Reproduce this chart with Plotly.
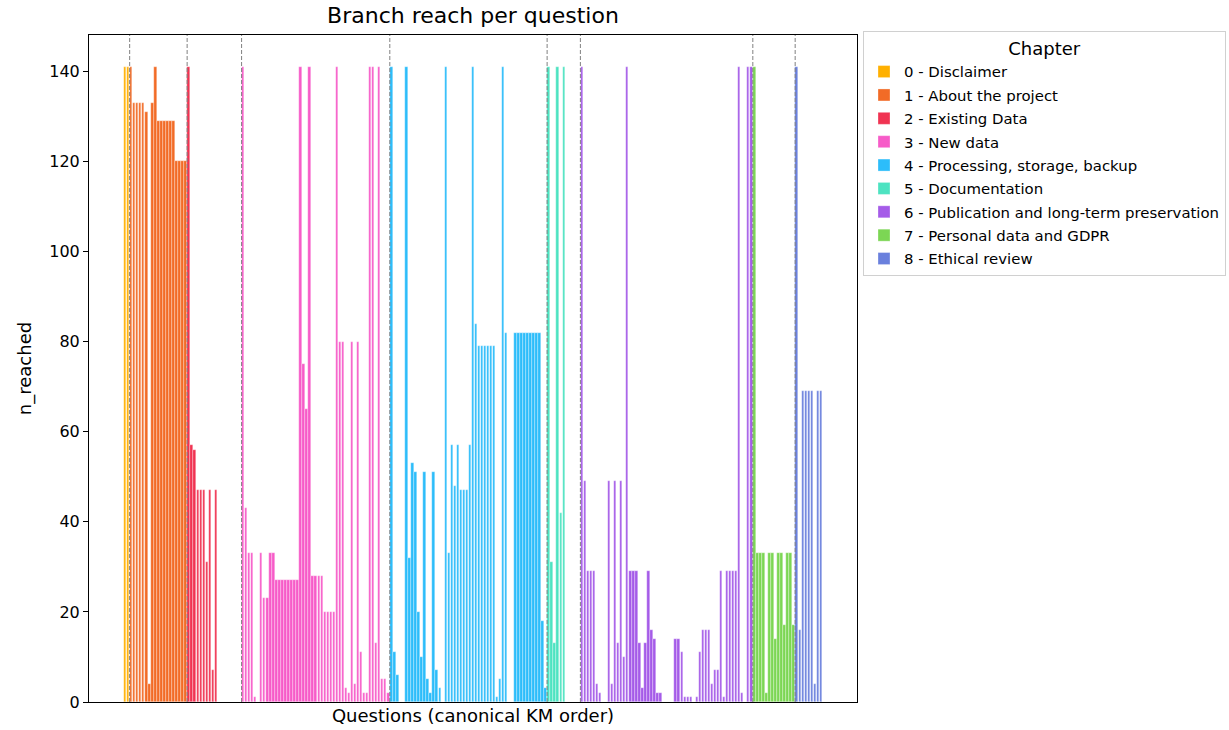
import plotly.graph_objects as go

# Chapters and colours
chapters = [
    "0 - Disclaimer",
    "1 - About the project",
    "2 - Existing Data",
    "3 - New data",
    "4 - Processing, storage, backup",
    "5 - Documentation",
    "6 - Publication and long-term preservation",
    "7 - Personal data and GDPR",
    "8 - Ethical review",
]
colors = ["#ffb000", "#f26b26", "#f03352", "#f75bc8", "#2cbdfa",
          "#4de3c1", "#a55be8", "#7cd654", "#6a80dd"]

# n_reached per question, in canonical KM order, one list per chapter
ch0 = [141, 141]
ch1 = [141, 133, 133, 133, 133, 131, 4, 133, 141,
       129, 129, 129, 129, 129, 129, 120, 120, 120, 120]
ch2 = [141, 57, 56, 47, 47, 47, 31, 47, 7, 47,
       0, 0, 0, 0, 0, 0, 0, 0]
ch3 = [141, 43, 33, 33, 1, 0, 33, 23, 23, 33, 33,
       27, 27, 27, 27, 27, 27, 27, 27,
       141, 75, 65, 141, 28, 28, 28, 28, 20, 20, 20, 20,
       141, 80, 80, 3, 2, 80, 4, 80, 11, 2, 2,
       141, 141, 13, 141, 5, 5, 2]
ch4 = [141, 11, 6, 0, 0, 141, 32, 53, 51, 20, 10, 51, 5, 2, 51, 7, 3, 0,
       141, 33, 57, 48, 57, 47, 47, 47, 57,
       141, 84, 79, 79, 79, 79, 79, 79, 1, 5,
       141, 82, 0, 0, 82, 82, 82, 82, 82, 82, 82, 82, 82, 18, 3]
ch5 = [141, 31, 13, 141, 42, 141, 0, 0, 0, 0, 0]
ch6 = [141, 49, 29, 29, 29, 4, 2, 0, 0, 49, 4, 49, 13, 49, 10,
       141, 29, 29, 29, 13, 3, 13, 29, 16, 14, 2, 2, 0, 0, 0, 0,
       14, 14, 11, 1, 1, 1, 0, 1, 11, 16, 16, 16, 4, 7, 7,
       29, 1, 29, 29, 29, 29, 141, 2, 0, 141, 141]
ch7 = [141, 33, 33, 33, 2, 33, 33, 14, 33, 33, 17, 33, 33, 17]
ch8 = [141, 16, 69, 69, 69, 69, 4, 69, 69]

reach = [ch0, ch1, ch2, ch3, ch4, ch5, ch6, ch7, ch8]

fig = go.Figure()
pos = 0
starts = []
for name, col, vals in zip(chapters, colors, reach):
    starts.append(pos)
    xs = list(range(pos, pos + len(vals)))
    fig.add_trace(go.Bar(x=xs, y=vals, name=name, width=0.8, legendgroup=name,
                         marker=dict(color=col, line=dict(color="rgba(255,255,255,0.6)", width=0.5))))
    pos += len(vals)
n = pos

# chapter separators
for s in starts[1:]:
    fig.add_shape(type="line", x0=s - 0.5, x1=s - 0.5, y0=0, y1=1,
                  xref="x", yref="paper", line=dict(color="#808080", width=1, dash="4px,2px"))

pad = 0.05 * (n - 0.2)
fig.update_layout(
    width=1229, height=730,
    margin=dict(l=89, r=372, t=35, b=28),
    paper_bgcolor="white", plot_bgcolor="white",
    font=dict(family="DejaVu Sans", size=16, color="black"),
    title=dict(text="Branch reach per question", x=0.5, xref="paper", xanchor="center",
               y=1 - 15 / 730, yref="container", yanchor="middle",
               font=dict(size=22)),
    bargap=0,
    xaxis=dict(range=[-0.4 - pad, n - 0.6 + pad], showticklabels=False, ticks="",
               showgrid=False, zeroline=False, showline=True, linecolor="black",
               linewidth=1, mirror=True, automargin=False,
               title=dict(text="Questions (canonical KM order)", standoff=7, font=dict(size=18))),
    yaxis=dict(range=[0, 148.05], tickvals=[0, 20, 40, 60, 80, 100, 120, 140],
               ticks="outside", ticklen=5, tickcolor="black", showgrid=False,
               zeroline=False, showline=True, linecolor="black", linewidth=1, mirror=True,
               tickfont=dict(size=16), automargin=False,
               title=dict(text="n_reached", standoff=12, font=dict(size=18))),
    legend=dict(title=dict(text="Chapter", side="top center", font=dict(size=18)),
                xref="container", yref="container",
                x=863 / 1229, y=1 - 31 / 730, xanchor="left", yanchor="top",
                bordercolor="#d0d0d0", borderwidth=1, font=dict(size=14.9),
                itemwidth=30, tracegroupgap=1),
)

fig.write_html("out.html", config={"displayModeBar": False},
               post_script="document.body.style.margin='0';")
